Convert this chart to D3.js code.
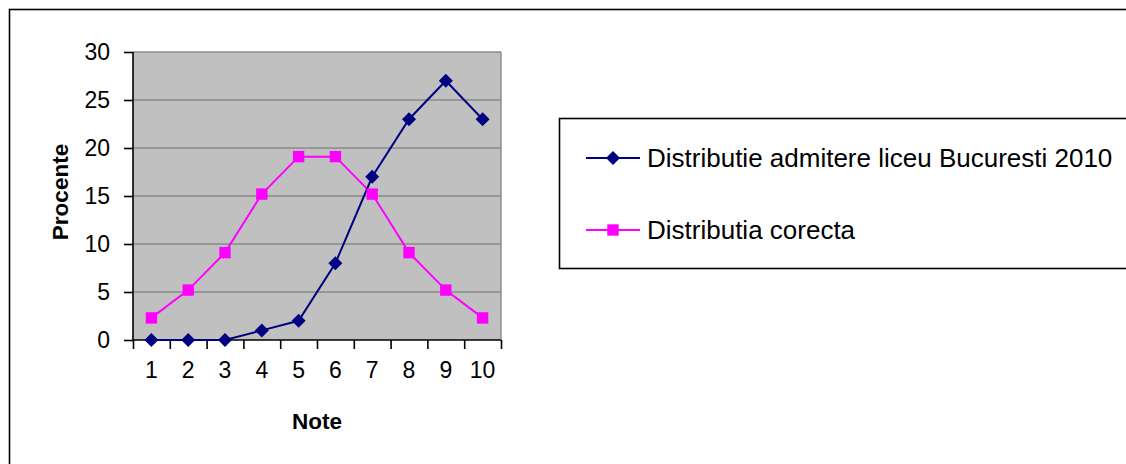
<!DOCTYPE html>
<html>
<head>
<meta charset="utf-8">
<script src="https://cdn.jsdelivr.net/npm/d3@7"></script>
<style>
  body { margin: 0; background: #fff; }
  svg { display: block; font-family: Arial, "Liberation Sans", sans-serif; }
</style>
</head>
<body>
<svg></svg>
<script>
// data
let note = ["1", "2", "3", "4", "5", "6", "7", "8", "9", "10"]
let admitere = [0, 0, 0, 1, 2, 8, 17, 23, 27, 23]
let corecta = [2.3, 5.2, 9.1, 15.2, 19.1, 19.1, 15.2, 9.1, 5.2, 2.3]
let yTicks = [0, 5, 10, 15, 20, 25, 30]
let seriesNames = ["Distributie admitere liceu Bucuresti 2010", "Distributia corecta"]

let width = 1126
let height = 464
let plot = {left: 133, right: 501, top: 52, bottom: 340}

let svg = d3.select("svg")
  .attr("width", width)
  .attr("height", height)

// outer chart frame (runs off right and bottom)
svg.append("rect")
   .attr("x", 9.5).attr("y", 9.5)
   .attr("width", width + 20).attr("height", height + 20)
   .attr("fill", "#fff")
   .attr("stroke", "#000")
   .attr("stroke-width", 1.6)

let xScale = d3.scaleBand()
  .domain(note)
  .range([plot.left, plot.right])
  .padding(0)

let xEdges = d3.scaleLinear()
  .domain([0, note.length])
  .range([plot.left, plot.right])

let yScale = d3.scaleLinear()
  .domain([0, 30])
  .range([plot.bottom, plot.top])

// plot area
svg.append("rect")
   .attr("x", plot.left).attr("y", plot.top)
   .attr("width", plot.right - plot.left)
   .attr("height", plot.bottom - plot.top)
   .attr("fill", "#c0c0c0")

svg.append("g")
   .selectAll("line")
   .data(yTicks.filter(d => d > 0))
   .enter()
   .append("line")
   .attr("x1", plot.left).attr("x2", plot.right)
   .attr("y1", d => yScale(d)).attr("y2", d => yScale(d))
   .attr("stroke", "#8a8a8a")
   .attr("stroke-width", 1.4)

svg.append("line")
   .attr("x1", plot.right).attr("x2", plot.right)
   .attr("y1", plot.top).attr("y2", plot.bottom)
   .attr("stroke", "#8a8a8a")
   .attr("stroke-width", 1.4)

// axes
let yAxis = d3.axisLeft(yScale)
  .tickValues(yTicks)
  .tickSize(9)
  .tickPadding(14)

svg.append("g")
   .attr("transform", "translate(" + plot.left + ",0)")
   .call(yAxis)
   .call(g => g.selectAll("line, path").attr("stroke", "#000").attr("stroke-width", 1.6))
   .call(g => g.select(".domain").attr("d", "M0," + plot.top + "V" + plot.bottom))
   .call(g => g.selectAll("text").attr("font-size", 23).attr("fill", "#000")
                .attr("font-family", "Arial, 'Liberation Sans', sans-serif"))

let xTickAxis = d3.axisBottom(xEdges)
  .tickValues(d3.range(note.length + 1))
  .tickFormat("")
  .tickSize(9)

svg.append("g")
   .attr("transform", "translate(0," + plot.bottom + ")")
   .call(xTickAxis)
   .call(g => g.selectAll("line, path").attr("stroke", "#000").attr("stroke-width", 1.6))
   .call(g => g.select(".domain").attr("d", "M" + plot.left + ",0H" + plot.right))

let xLabelAxis = d3.axisBottom(xScale)
  .tickSize(0)
  .tickPadding(22)

svg.append("g")
   .attr("transform", "translate(0," + plot.bottom + ")")
   .call(xLabelAxis)
   .call(g => g.select(".domain").remove())
   .call(g => g.selectAll("text").attr("font-size", 23).attr("fill", "#000")
                .attr("font-family", "Arial, 'Liberation Sans', sans-serif"))

// axis titles
svg.append("text")
   .text("Note")
   .attr("x", (plot.left + plot.right) / 2)
   .attr("y", 429)
   .attr("text-anchor", "middle")
   .attr("font-size", 22.5)
   .attr("font-weight", "bold")

svg.append("text")
   .text("Procente")
   .attr("transform", "translate(68,192) rotate(-90)")
   .attr("text-anchor", "middle")
   .attr("font-size", 22.5)
   .attr("font-weight", "bold")

// series
let xc = (d, i) => xScale(note[i]) + xScale.bandwidth() / 2
let line = d3.line().x(xc).y(d => yScale(d))

let diamond = d3.symbol().type(d3.symbolDiamond2).size(125)
let square = d3.symbol().type(d3.symbolSquare2).size(165)

svg.append("path")
   .attr("d", line(corecta))
   .attr("fill", "none")
   .attr("stroke", "#ff00ff")
   .attr("stroke-width", 2)

svg.append("path")
   .attr("d", line(admitere))
   .attr("fill", "none")
   .attr("stroke", "#000080")
   .attr("stroke-width", 2)

svg.append("g")
   .selectAll("path")
   .data(corecta)
   .enter()
   .append("path")
   .attr("d", square)
   .attr("transform", (d, i) => "translate(" + xc(d, i) + "," + yScale(d) + ")")
   .attr("fill", "#ff00ff")

svg.append("g")
   .selectAll("path")
   .data(admitere)
   .enter()
   .append("path")
   .attr("d", diamond)
   .attr("transform", (d, i) => "translate(" + xc(d, i) + "," + yScale(d) + ")")
   .attr("fill", "#000080")

// legend
svg.append("rect")
   .attr("x", 559.5).attr("y", 118.5)
   .attr("width", 600).attr("height", 150)
   .attr("fill", "#fff")
   .attr("stroke", "#000")
   .attr("stroke-width", 1.6)

let legendColors = ["#000080", "#ff00ff"]
let legendSymbols = [diamond, square]
let legendY = [158, 230]

let leg = svg.append("g")
  .selectAll("g")
  .data(seriesNames)
  .enter()
  .append("g")
  .attr("transform", (d, i) => "translate(0," + legendY[i] + ")")

leg.append("line")
   .attr("x1", 586).attr("x2", 640)
   .attr("stroke", (d, i) => legendColors[i])
   .attr("stroke-width", 2)

leg.append("path")
   .attr("d", (d, i) => legendSymbols[i]())
   .attr("transform", "translate(613,0)")
   .attr("fill", (d, i) => legendColors[i])

leg.append("text")
   .text(d => d)
   .attr("x", 647)
   .attr("y", 8.5)
   .attr("font-size", 26)
   .attr("fill", "#000")
</script>
</body>
</html>
